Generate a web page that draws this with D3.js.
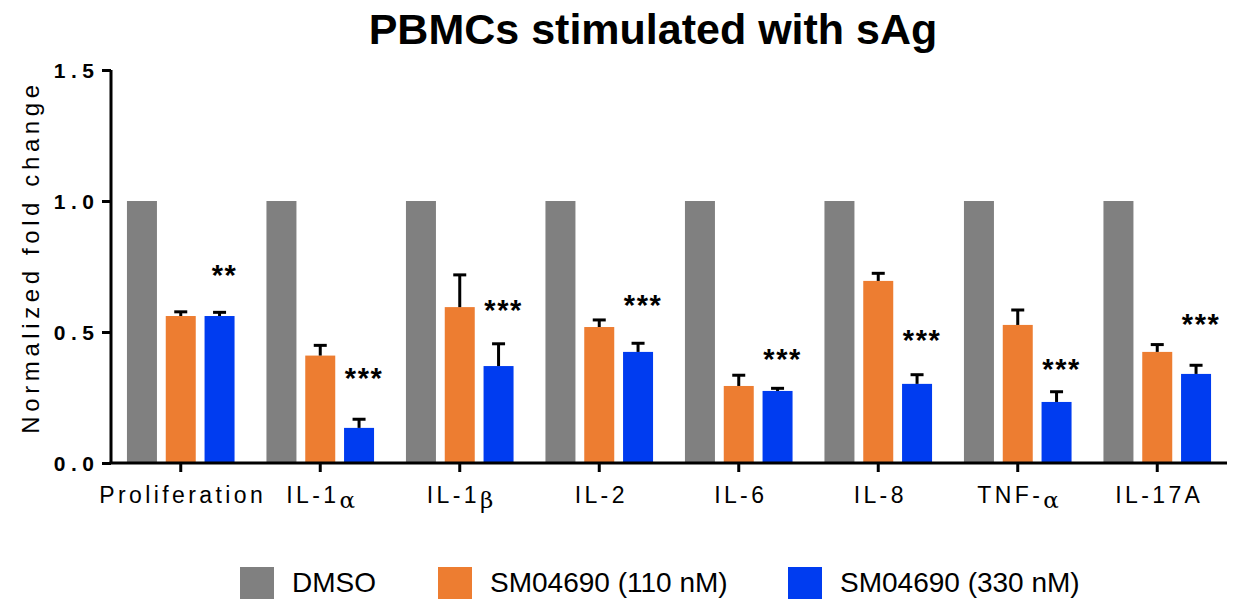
<!DOCTYPE html>
<html>
<head>
<meta charset="utf-8">
<script src="https://cdn.jsdelivr.net/npm/d3@7"></script>
<style>
  body { margin: 0; background: #fff; }
  svg text { font-family: "Liberation Sans", Arial, sans-serif; }
</style>
</head>
<body>
<div id="chart"></div>
<script>
// data
const categories = ["Proliferation", "IL-1α", "IL-1β", "IL-2", "IL-6", "IL-8", "TNF-α", "IL-17A"];
const series = ["DMSO", "SM04690 (110 nM)", "SM04690 (330 nM)"];
const dmso = [1, 1, 1, 1, 1, 1, 1, 1];
const dmsoErr = [0, 0, 0, 0, 0, 0, 0, 0];
const sm110 = [0.561, 0.41, 0.595, 0.519, 0.294, 0.695, 0.527, 0.424];
const sm110Err = [0.016, 0.039, 0.123, 0.027, 0.041, 0.029, 0.057, 0.028];
const sm330 = [0.561, 0.134, 0.37, 0.424, 0.275, 0.302, 0.233, 0.34];
const sm330Err = [0.014, 0.033, 0.085, 0.033, 0.01, 0.035, 0.039, 0.033];
const sigLabels = ["**", "***", "***", "***", "***", "***", "***", "***"];
const sigY = [0.744, 0.351, 0.611, 0.63, 0.424, 0.496, 0.385, 0.557];
const yTicks = [0, 0.5, 1.0, 1.5];
const colors = ["#808080", "#ED7D31", "#003CF0"];

const values = [dmso, sm110, sm330];
const errs = [dmsoErr, sm110Err, sm330Err];

const W = 1238, H = 599;
const svg = d3.select("#chart").append("svg").attr("width", W).attr("height", H);

const x0 = d3.scaleBand().domain(categories).range([111, 1227]).paddingInner(0).paddingOuter(0);
const x1 = d3.scaleBand().domain(series).range([0, x0.bandwidth()]).paddingInner(0.227).paddingOuter(0.411);
const y = d3.scaleLinear().domain([0, 1.5]).range([463, 70]);

// title
svg.append("text").attr("x", 653).attr("y", 44).attr("text-anchor", "middle")
  .style("font-size", "43px").style("font-weight", "bold").text("PBMCs stimulated with sAg");

// y title
svg.append("text").attr("transform", "translate(39,257) rotate(-90)").attr("text-anchor", "middle")
  .style("font-size", "24px").style("letter-spacing", "4.6px").text("Normalized fold change");

// bars
const rows = categories.flatMap((c, i) => series.map((s, j) => ({ c, s, j, v: values[j][i], e: errs[j][i] })));
const g = svg.append("g");
g.selectAll("rect.bar").data(rows).enter().append("rect").attr("class", "bar")
  .attr("x", d => x0(d.c) + x1(d.s)).attr("width", x1.bandwidth())
  .attr("y", d => y(d.v)).attr("height", d => y(0) - y(d.v))
  .attr("fill", d => colors[d.j]);

// error bars (upper only)
const eb = rows.filter(d => d.e > 0);
const cx = d => x0(d.c) + x1(d.s) + x1.bandwidth() / 2;
g.selectAll("line.err").data(eb).enter().append("line").attr("class", "err")
  .attr("x1", cx).attr("x2", cx)
  .attr("y1", d => y(d.v)).attr("y2", d => y(d.v + d.e)).attr("stroke", "#000").attr("stroke-width", 3);
g.selectAll("line.cap").data(eb).enter().append("line").attr("class", "cap")
  .attr("x1", d => cx(d) - 6.5).attr("x2", d => cx(d) + 6.5)
  .attr("y1", d => y(d.v + d.e)).attr("y2", d => y(d.v + d.e)).attr("stroke", "#000").attr("stroke-width", 3);

// significance stars over the 330 nM bars
g.selectAll("text.sig").data(categories).enter().append("text").attr("class", "sig")
  .attr("x", d => x0(d) + x1(series[2]) + x1.bandwidth() / 2 + 5).attr("y", (d, i) => y(sigY[i]) + 17)
  .attr("text-anchor", "middle").style("font-size", "29px").style("font-weight", "bold").style("letter-spacing", "1.5px")
  .text((d, i) => sigLabels[i]);

// axes
const yAxis = svg.append("g").attr("transform", "translate(111,0)")
  .call(d3.axisLeft(y).tickValues(yTicks).tickFormat(d3.format(".1f")).tickSize(9).tickPadding(8));
yAxis.select(".domain").attr("d", `M0,${y(1.5)}V${y(0)}`).attr("stroke-width", 3);
yAxis.selectAll(".tick line").attr("stroke-width", 3);
yAxis.selectAll(".tick text").style("font-size", "21px").style("font-weight", "bold")
  .style("letter-spacing", "5.5px").attr("dx", 5.5).attr("dy", "0.36em")
  .style("font-family", "'Liberation Sans', Arial, sans-serif").attr("fill", "#000");

const xAxis = svg.append("g").attr("transform", `translate(0,${y(0)})`)
  .call(d3.axisBottom(x0).tickSize(9).tickPadding(16).tickFormat(""));
xAxis.select(".domain").attr("d", `M109.5,0H1227`).attr("stroke-width", 3);
xAxis.selectAll(".tick line").attr("stroke-width", 3);

// x labels with greek parts set lower
const xl = svg.append("g").selectAll("text").data(categories).enter().append("text")
  .attr("x", d => x0(d) + x0.bandwidth() / 2 + 2).attr("y", 503).attr("text-anchor", "middle")
  .style("font-size", "23px").style("letter-spacing", "3.4px");
xl.each(function (d) {
  const t = d3.select(this);
  const m = d.match(/^(.*?)([αβ])$/);
  if (m) {
    t.append("tspan").text(m[1]);
    t.append("tspan").attr("dy", 5).style("font-family", "'DejaVu Serif', serif").style("font-size", "23px").text(m[2]);
  } else {
    t.text(d);
  }
});

// legend
const legX = [240, 438, 788];
const leg = svg.append("g").selectAll("g").data(series).enter().append("g")
  .attr("transform", (d, i) => `translate(${legX[i]},567)`);
leg.append("rect").attr("width", 34).attr("height", 32).attr("fill", (d, i) => colors[i]);
leg.append("text").attr("x", 52).attr("y", 25).style("font-size", "28px").text(d => d);
</script>
</body>
</html>
